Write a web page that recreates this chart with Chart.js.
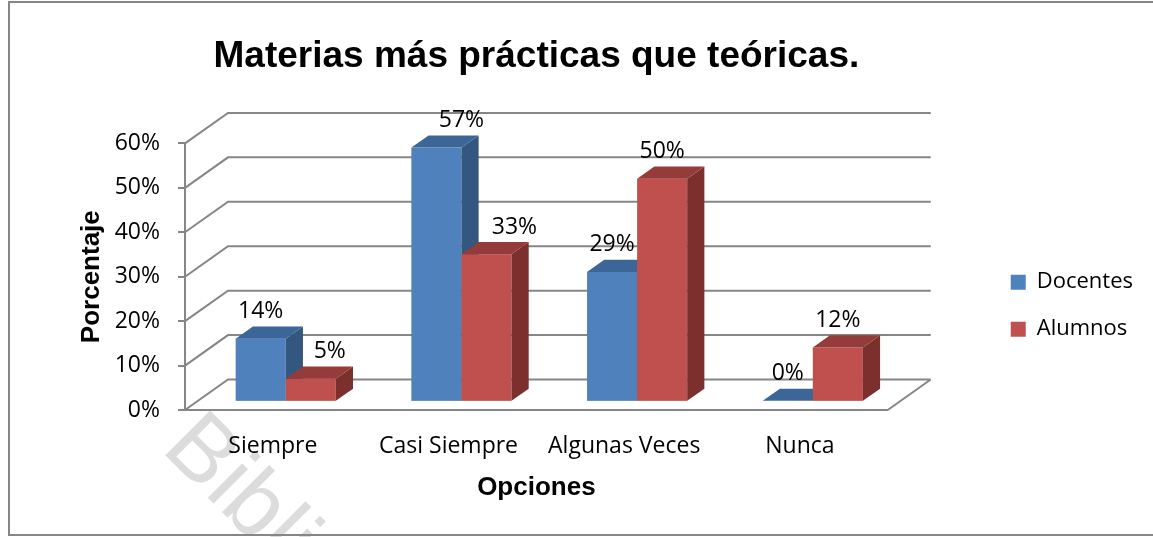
<!DOCTYPE html>
<html>
<head>
<meta charset="utf-8">
<script src="https://cdn.jsdelivr.net/npm/chart.js@4"></script>
<style>
body { margin: 0; background: #fff; }
canvas { display: block; }
</style>
</head>
<body>
<canvas id="grafico" width="1153" height="537"></canvas>
<script>
// DATOS
var categorias = ['Siempre', 'Casi Siempre', 'Algunas Veces', 'Nunca'];
var docentes = [14, 57, 29, 0];
var alumnos = [5, 33, 50, 12];
var ticksY = [0, 10, 20, 30, 40, 50, 60];

// efecto 3D (estilo Excel)
var PROF = [43, -30.5];   // desplazamiento de la pared del fondo
var Z0 = 0.3, Z1 = 0.7;   // profundidad ocupada por las barras
var caras = [
  { frente: '#4F81BD', arriba: '#3D6698', lado: '#34577F' },
  { frente: '#C0504D', arriba: '#953B39', lado: '#7B302E' }
];
// etiquetas movidas a mano en el original
var empujes = [[0, 25, 0, 0], [19, 28, 0, 0]];
var GRIS = '#868686';
var fuente = 'Open Sans';

function poligono(ctx, pts, color) {
  ctx.fillStyle = color;
  ctx.beginPath();
  ctx.moveTo(pts[0][0], pts[0][1]);
  for (var k = 1; k < pts.length; k++) ctx.lineTo(pts[k][0], pts[k][1]);
  ctx.closePath();
  ctx.fill();
}

var barras3d = {
  id: 'barras3d',
  beforeDraw: function (chart) {
    var ctx = chart.ctx;
    ctx.save();
    ctx.fillStyle = '#fff';
    ctx.fillRect(0, 0, chart.width, chart.height);
    // marca de agua del documento
    ctx.translate(160, 450);
    ctx.rotate(Math.PI / 4);
    ctx.fillStyle = '#dcdcdc';
    ctx.font = '92px "Liberation Sans"';
    ctx.fillText('Bibli', 0, 0);
    ctx.restore();
    // marco
    ctx.save();
    ctx.strokeStyle = GRIS;
    ctx.lineWidth = 2;
    ctx.strokeRect(9, 2, chart.width + 10, 533);
    ctx.restore();
  },
  beforeDatasetsDraw: function (chart) {
    var ctx = chart.ctx, a = chart.chartArea, y = chart.scales.y;
    ctx.save();
    ctx.strokeStyle = GRIS;
    ctx.lineWidth = 2;
    ctx.beginPath();
    ticksY.forEach(function (v) {
      var py = y.getPixelForValue(v);
      ctx.moveTo(a.left, py);
      ctx.lineTo(a.left + PROF[0], py + PROF[1]);
      ctx.lineTo(a.right + PROF[0], py + PROF[1]);
    });
    var p0 = y.getPixelForValue(0);
    ctx.moveTo(a.right, p0);
    ctx.lineTo(a.right + PROF[0], p0 + PROF[1]);
    ctx.stroke();
    ctx.restore();
  },
  beforeDatasetDraw: function () { return false; },
  afterDatasetsDraw: function (chart) {
    var ctx = chart.ctx, y = chart.scales.y;
    var series = [docentes, alumnos];
    var base = y.getPixelForValue(0);
    var ox = PROF[0] * Z0, oy = PROF[1] * Z0;
    var dx = PROF[0] * (Z1 - Z0), dy = PROF[1] * (Z1 - Z0);
    var etiquetas = [];
    ctx.save();
    for (var i = 0; i < categorias.length; i++) {
      for (var s = 0; s < series.length; s++) {
        var el = chart.getDatasetMeta(s).data[i];
        var x0 = el.x - el.width / 2 + ox, x1 = el.x + el.width / 2 + ox;
        var yb = base + oy, yt = el.y + oy;
        var c = caras[s];
        ctx.fillStyle = c.frente;
        ctx.fillRect(x0, yt, x1 - x0, yb - yt);
        poligono(ctx, [[x1, yt], [x1 + dx, yt + dy], [x1 + dx, yb + dy], [x1, yb]], c.lado);
        poligono(ctx, [[x0, yt], [x0 + dx, yt + dy], [x1 + dx, yt + dy], [x1, yt]], c.arriba);
        etiquetas.push([series[s][i] + '%', (x0 + x1) / 2 + empujes[s][i], yt + dy - 15]);
      }
    }
    ctx.fillStyle = '#000';
    ctx.font = '23px "' + fuente + '"';
    ctx.textAlign = 'center';
    ctx.textBaseline = 'middle';
    etiquetas.forEach(function (e) { ctx.fillText(e[0], e[1], e[2]); });
    ctx.restore();
  }
};

new Chart(document.getElementById('grafico'), {
  type: 'bar',
  data: {
    labels: categorias,
    datasets: [
      { label: 'Docentes', data: docentes, backgroundColor: '#4F81BD', borderWidth: 0, categoryPercentage: 0.57, barPercentage: 1 },
      { label: 'Alumnos', data: alumnos, backgroundColor: '#C0504D', borderWidth: 0, categoryPercentage: 0.57, barPercentage: 1 }
    ]
  },
  options: {
    responsive: false,
    animation: false,
    layout: { padding: { left: 72, top: 0, right: 10, bottom: 30 } },
    plugins: {
      title: {
        display: true,
        text: 'Materias más prácticas que teóricas.',
        fullSize: false,
        color: '#000',
        font: { family: 'Liberation Sans', size: 37, weight: 'bold' },
        padding: { top: 35, bottom: 64 }
      },
      legend: {
        position: 'right',
        fullSize: false,
        labels: { boxWidth: 15, boxHeight: 15, padding: 25, color: '#000', font: { family: fuente, size: 22 } },
        title: { display: true, text: '', padding: { top: 46, bottom: 0 }, font: { size: 10 } }
      },
      tooltip: { enabled: false }
    },
    scales: {
      x: {
        grid: { display: false },
        border: { display: true, color: GRIS, width: 2 },
        ticks: { color: '#000', padding: 15, maxRotation: 0, font: { family: fuente, size: 23 } },
        title: {
          display: true, text: 'Opciones', color: '#000',
          font: { family: 'Liberation Sans', size: 26, weight: 'bold' },
          padding: { top: 13, bottom: 4 }
        },
        afterFit: function (s) { s.height = 97; }
      },
      y: {
        min: 0, max: 60,
        ticks: {
          stepSize: 10, color: '#000', padding: 18,
          font: { family: fuente, size: 23 },
          callback: function (v) { return v + '%'; }
        },
        grid: { drawOnChartArea: false, tickLength: 7, color: GRIS, lineWidth: 2 },
        border: { display: true, color: GRIS, width: 2 },
        title: {
          display: true, text: 'Porcentaje', color: '#000',
          font: { family: 'Liberation Sans', size: 26, weight: 'bold' },
          padding: { top: 4, bottom: 8 }
        },
        afterFit: function (s) { s.width = 113; }
      },
      hueco: {
        type: 'linear', position: 'right',
        grid: { display: false }, border: { display: false }, ticks: { display: false },
        afterFit: function (s) { s.width = 98; }
      }
    }
  },
  plugins: [barras3d]
});
</script>
</body>
</html>
